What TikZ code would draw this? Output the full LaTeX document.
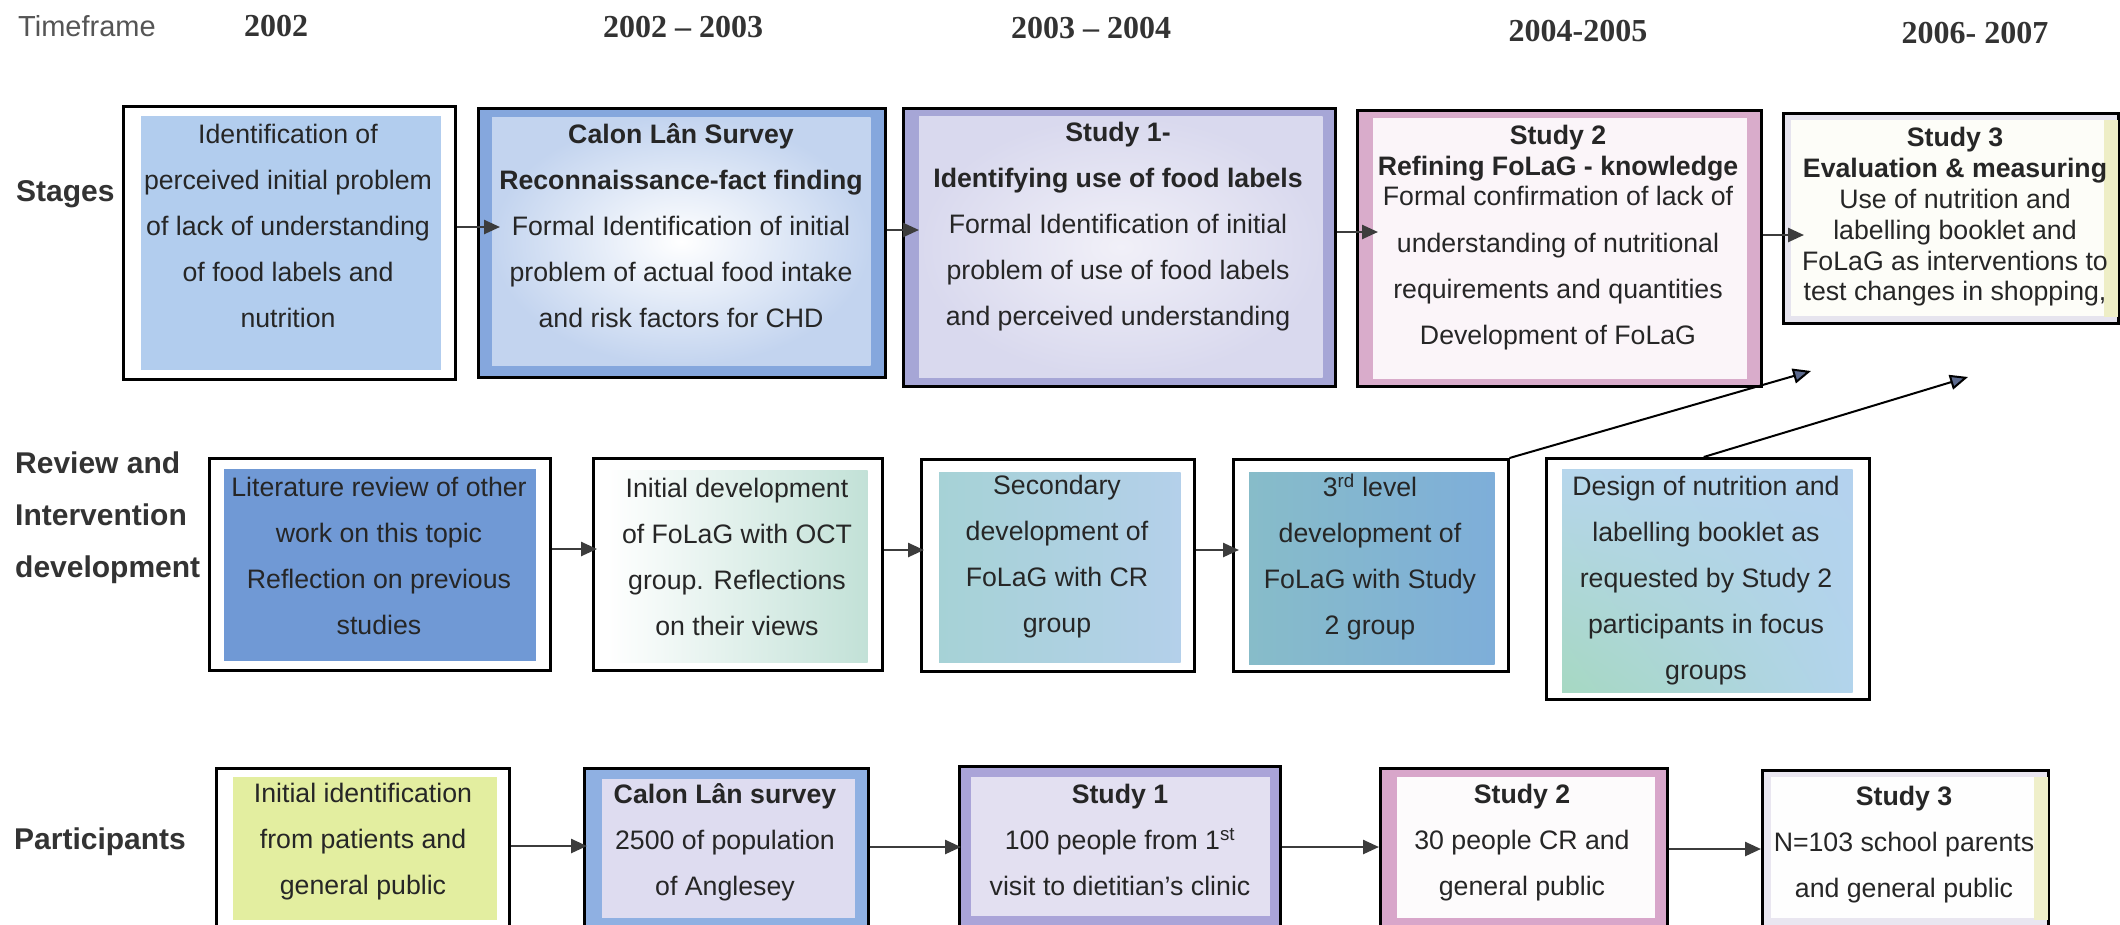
\documentclass[tikz,border=0pt]{standalone}
\usepackage{fontspec}
\setmainfont{Liberation Sans}
\newfontfamily\yearfont{Liberation Serif}
\usetikzlibrary{arrows.meta,calc,shadings}

\definecolor{ink}{HTML}{262626}
\definecolor{labelgray}{HTML}{333333}
\definecolor{timegray}{HTML}{555555}
\definecolor{arrowgray}{HTML}{3C3C3C}
\definecolor{diaghead}{HTML}{5C6A8E}
% stage row
\definecolor{Sone}{HTML}{B2CDEE}
\definecolor{Stwoband}{HTML}{85A7DD}
\definecolor{Stwoedge}{HTML}{C3D4EF}
\definecolor{Sthreeband}{HTML}{A6A6D6}
\definecolor{Sthreeedge}{HTML}{D9D9EE}
\definecolor{Sthreemid}{HTML}{F1F0F8}
\definecolor{Sfourband}{HTML}{D9ACCB}
\definecolor{Sfourin}{HTML}{FBF5F9}
\definecolor{Sfiveband}{HTML}{E6E4EE}
\definecolor{Sfiveside}{HTML}{EEEEC6}
\definecolor{Sfivein}{HTML}{FDFDF8}
% review row
\definecolor{Rone}{HTML}{7099D5}
\definecolor{Rtwo}{HTML}{C2E1D7}
\definecolor{RthreeL}{HTML}{A6D2D6}
\definecolor{RthreeR}{HTML}{B4D0EA}
\definecolor{RfourL}{HTML}{87BCC9}
\definecolor{RfourR}{HTML}{7EAED9}
\definecolor{RfiveUL}{HTML}{B6D6EC}
\definecolor{RfiveUR}{HTML}{B4D2EE}
\definecolor{RfiveLL}{HTML}{A6D8C2}
\definecolor{RfiveLR}{HTML}{B2D4EC}
% participants row
\definecolor{Pone}{HTML}{E3EEA0}
\definecolor{Ptwoband}{HTML}{8FB0E2}
\definecolor{Ptwoin}{HTML}{DEDCF0}
\definecolor{Pthreeband}{HTML}{AAA4D8}
\definecolor{Pthreein}{HTML}{E3E0F1}
\definecolor{Pfourband}{HTML}{D8A6CA}
\definecolor{Pfourin}{HTML}{FDFBFC}
\definecolor{Pfiveband}{HTML}{E9E6F0}
\definecolor{Pfiveside}{HTML}{EFEFCA}
\definecolor{Pfivein}{HTML}{FEFEFE}

\tikzset{
  panel/.style={draw=black, line width=2.5pt, anchor=north west, inner sep=0pt, fill=white},
  body/.style={font=\fontsize{26.7pt}{46pt}\selectfont, text=ink, align=center, inner sep=0pt},
  rowlabel/.style={font=\fontsize{30pt}{52pt}\selectfont\bfseries, text=labelgray, align=left, anchor=west, inner sep=0pt},
  yearlabel/.style={font=\yearfont\fontsize{32pt}{36pt}\selectfont\bfseries, text=labelgray, inner sep=0pt},
  arr/.style={draw=arrowgray, line width=2.5pt, -{Triangle[length=16pt,width=14pt]}},
  diag/.style={draw=black, line width=2pt, -{Triangle[length=18pt,width=15pt,fill=diaghead]}},
}

\begin{document}
\begin{tikzpicture}[x=1pt,y=-1pt]
\useasboundingbox (0,0) rectangle (2120,924);
\clip (0,0) rectangle (2120,924);
\fill[white] (0,0) rectangle (2120,924);

% ---------- header ----------
\node[font=\fontsize{29pt}{34pt}\selectfont, text=timegray, anchor=west, inner sep=0pt] (tf) at (18,26) {Timeframe};
\node[yearlabel] (ya) at (276,26) {2002};
\node[yearlabel] (yb) at (683,27) {2002 – 2003};
\node[yearlabel] (yc) at (1091,28) {2003 – 2004};
\node[yearlabel] (yd) at (1578,31) {2004-2005};
\node[yearlabel] (ye) at (1975,33) {2006- 2007};

% ---------- row labels ----------
\node[rowlabel] (lstages) at (16,194) {Stages};
\node[rowlabel] (lreview) at (15,518) {Review and\\Intervention\\development};
\node[rowlabel] (lpart) at (14,842) {Participants};

% ---------- stages ----------
\node[panel, minimum width=332, minimum height=273] (s1) at (122,105) {};
\fill[Sone] ($(s1.north west)+(19,11)$) rectangle ($(s1.south east)+(-16,-11)$);
\node[body] (s1t) at (288,226) {Identification of\\perceived initial problem\\of lack of understanding\\of food labels and\\nutrition};

\node[panel, fill=Stwoband, minimum width=407, minimum height=269] (s2) at (477,107) {};
\shade[inner color=white, outer color=Stwoedge] ($(s2.north west)+(15,10)$) rectangle ($(s2.south east)+(-16,-13)$);
\node[body] (s2t) at (681,226) {\textbf{Calon Lân Survey}\\\textbf{Reconnaissance-fact finding}\\Formal Identification of initial\\problem of actual food intake\\and risk factors for CHD};

\node[panel, fill=Sthreeband, minimum width=432, minimum height=278] (s3) at (902,107) {};
\shade[inner color=Sthreemid, outer color=Sthreeedge] ($(s3.north west)+(17,9)$) rectangle ($(s3.south east)+(-14,-10)$);
\node[body] (s3t) at (1118,227) {\textbf{Study 1-}\\\textbf{Identifying use of food labels}\\Formal Identification of initial\\problem of use of food labels\\and perceived understanding};

\node[panel, fill=Sfourband, minimum width=404, minimum height=276] (s4) at (1356,109) {};
\fill[Sfourin] ($(s4.north west)+(17,9)$) rectangle ($(s4.south east)+(-16,-9)$);
\node[body, font=\fontsize{26.7pt}{30.5pt}\selectfont] (s4t) at (1558,238) {\textbf{Study 2}\\\textbf{Refining FoLaG - knowledge}\\Formal confirmation of lack of\\[15.8pt]understanding of nutritional\\[15.8pt]requirements and quantities\\[15.8pt]Development of FoLaG};

\node[panel, fill=Sfiveband, minimum width=335, minimum height=210] (s5) at (1782,112) {};
\fill[Sfiveside] ($(s5.north east)+(-16,8)$) rectangle ($(s5.south east)+(-2,-8)$);
\fill[Sfivein] ($(s5.north west)+(9,8)$) rectangle ($(s5.south east)+(-16,-9)$);
\node[body, font=\fontsize{26.7pt}{30.8pt}\selectfont] (s5t) at (1955,217) {\textbf{Study 3}\\\textbf{Evaluation \& measuring}\\Use of nutrition and\\labelling booklet and\\FoLaG as interventions to\\test changes in shopping,};

% ---------- review and intervention development ----------
\node[panel, minimum width=341, minimum height=212] (r1) at (208,457) {};
\fill[Rone] ($(r1.north west)+(16,12)$) rectangle ($(r1.south east)+(-16,-11)$);
\node[body] (r1t) at (379,556) {Literature review of other\\work on this topic\\Reflection on previous\\studies};

\node[panel, minimum width=289, minimum height=212] (r2) at (592,457) {};
\shade[left color=white, right color=Rtwo] ($(r2.north west)+(15,13)$) rectangle ($(r2.south east)+(-16,-9)$);
\node[body] (r2t) at (737,557) {Initial development\\of FoLaG with OCT\\group. Reflections\\on their views};

\node[panel, minimum width=273, minimum height=212] (r3) at (920,458) {};
\shade[left color=RthreeL, right color=RthreeR] ($(r3.north west)+(19,14)$) rectangle ($(r3.south east)+(-15,-10)$);
\node[body] (r3t) at (1057,557) {Secondary\\development of\\FoLaG with CR\\group};

\node[panel, minimum width=275, minimum height=212] (r4) at (1232,458) {};
\shade[left color=RfourL, right color=RfourR] ($(r4.north west)+(17,14)$) rectangle ($(r4.south east)+(-15,-8)$);
\node[body] (r4t) at (1370,557) {3\textsuperscript{rd} level\\development of\\FoLaG with Study\\2 group};

\node[panel, minimum width=323, minimum height=241] (r5) at (1545,457) {};
\shade[upper left=RfiveUL, upper right=RfiveUR, lower left=RfiveLL, lower right=RfiveLR] ($(r5.north west)+(17,12)$) rectangle ($(r5.south east)+(-18,-8)$);
\node[body] (r5t) at (1706,581) {Design of nutrition and\\labelling booklet as\\requested by Study 2\\participants in focus\\groups};

% ---------- participants ----------
\node[panel, minimum width=293, minimum height=170] (p1) at (215,767) {};
\fill[Pone] ($(p1.north west)+(18,10)$) rectangle ($(p1.south east)+(-14,-20)$);
\node[body] (p1t) at (363,842) {Initial identification\\from patients and\\general public};

\node[panel, fill=Ptwoband, minimum width=284, minimum height=170] (p2) at (583,767) {};
\fill[Ptwoin] ($(p2.north west)+(19,12)$) rectangle ($(p2.south east)+(-15,-22)$);
\node[body] (p2t) at (725,842) {\textbf{Calon Lân survey}\\2500 of population\\of Anglesey};

\node[panel, fill=Pthreeband, minimum width=321, minimum height=172] (p3) at (958,765) {};
\fill[Pthreein] ($(p3.north west)+(13,12)$) rectangle ($(p3.south east)+(-12,-24)$);
\node[body] (p3t) at (1120,840) {\textbf{Study 1}\\100 people from 1\textsuperscript{st}\\visit to dietitian’s clinic};

\node[panel, fill=Pfourband, minimum width=287, minimum height=170] (p4) at (1379,767) {};
\fill[Pfourin] ($(p4.north west)+(18,10)$) rectangle ($(p4.south east)+(-14,-22)$);
\node[body] (p4t) at (1522,843) {\textbf{Study 2}\\30 people CR and\\general public};

\node[panel, fill=Pfiveband, minimum width=286, minimum height=168] (p5) at (1761,769) {};
\fill[Pfiveside] ($(p5.north east)+(-16,8)$) rectangle ($(p5.south east)+(-2,-20)$);
\fill[Pfivein] ($(p5.north west)+(10,8)$) rectangle ($(p5.south east)+(-16,-22)$);
\node[body] (p5t) at (1904,845) {\textbf{Study 3}\\N=103 school parents\\and general public};

% ---------- connector levels ----------
\coordinate (ha) at (0,227);
\coordinate (hb) at (0,230);
\coordinate (hc) at (0,232);
\coordinate (hd) at (0,235);
\coordinate (he) at (0,549);
\coordinate (hf) at (0,550);
\coordinate (hg) at (0,846);
\coordinate (hh) at (0,847);
\coordinate (hi) at (0,849);
\coordinate (t1) at (1811,371);
\coordinate (t2) at (1968,377);

% ---------- connectors ----------
\draw[arr] (s1.east |- ha) -- ($(s2.west |- ha)+(23,0)$);
\draw[arr] (s2.east |- hb) -- ($(s3.west |- hb)+(17,0)$);
\draw[arr] (s3.east |- hc) -- ($(s4.west |- hc)+(22,0)$);
\draw[arr] (s4.east |- hd) -- ($(s5.west |- hd)+(22,0)$);

\draw[arr] (r1.east |- he) -- ($(r2.west |- he)+(5,0)$);
\draw[arr] (r2.east |- hf) -- ($(r3.west |- hf)+(4,0)$);
\draw[arr] (r3.east |- hf) -- ($(r4.west |- hf)+(7,0)$);

\draw[arr] (p1.east |- hg) -- ($(p2.west |- hg)+(4,0)$);
\draw[arr] (p2.east |- hh) -- ($(p3.west |- hh)+(3,0)$);
\draw[arr] (p3.east |- hh) -- (p4.west |- hh);
\draw[arr] (p4.east |- hi) -- (p5.west |- hi);

\draw[diag] (r4.north east) -- (t1);
\draw[diag] ($(r5.north)+(-4,0)$) -- (t2);

\end{tikzpicture}
\end{document}
